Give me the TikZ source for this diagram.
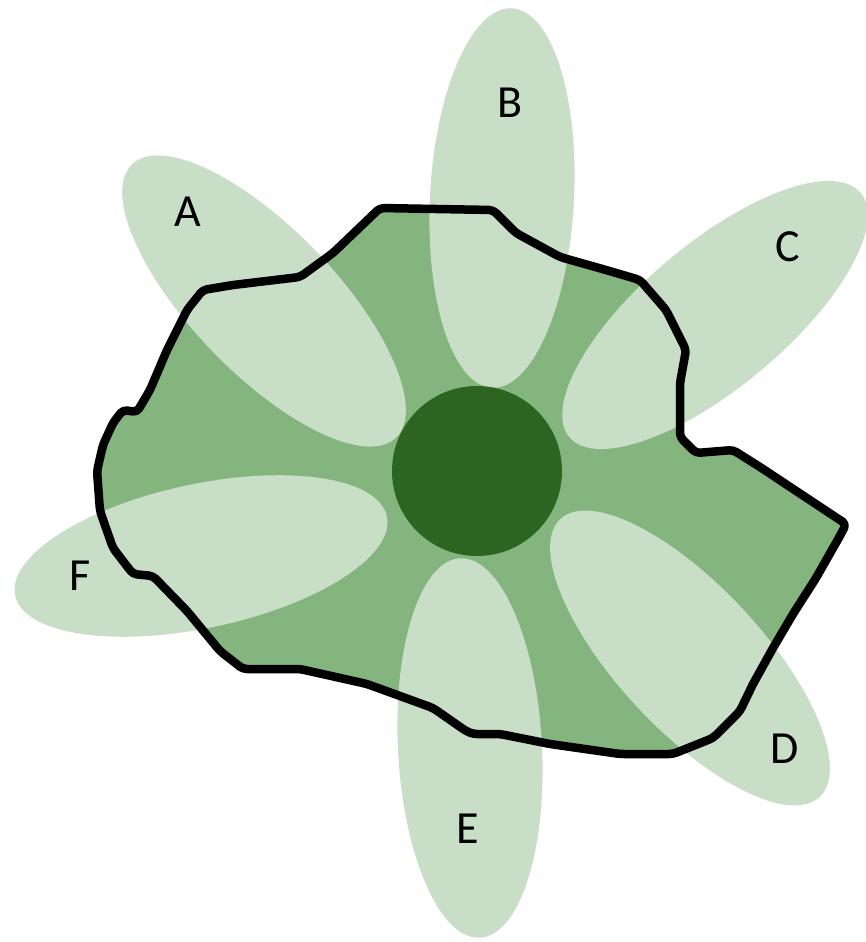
\documentclass[tikz,border=0pt]{standalone}
\usepackage{fontspec}
\usepackage{xcolor}
\usepackage{tikz}
\newfontfamily\petalfont{Carlito}

\definecolor{leafpale}{HTML}{C9DEC7}
\definecolor{leafmid}{HTML}{85B57F}
\definecolor{leafdark}{HTML}{2B6521}

% irregular boundary (image pixel coordinates, y downwards)
\newcommand{\blobline}{(380,-208) -- (493,-210) -- (516,-233) -- (560,-257) -- (606,-270)
  -- (640,-280) -- (666,-310) -- (686,-350) -- (680,-383) -- (680,-437) -- (696,-453)
  -- (733,-450) -- (760,-467) -- (846,-524) -- (841,-534) -- (816,-578) -- (793,-614)
  -- (773,-648) -- (753,-684) -- (740,-711) -- (713,-738) -- (673,-754) -- (620,-754)
  -- (550,-744) -- (500,-734) -- (473,-734) -- (466,-731) -- (433,-708) -- (367,-684)
  -- (300,-669) -- (243,-669) -- (220,-651) -- (187,-611) -- (153,-576) -- (133,-574)
  -- (113,-548) -- (100,-511) -- (97,-471) -- (103,-445) -- (113,-423) -- (123,-410)
  -- (137,-412) -- (150,-390) -- (167,-350) -- (187,-310) -- (203,-290) -- (233,-285)
  -- (300,-277) -- (333,-253) -- cycle}

\begin{document}
\begin{tikzpicture}[
  x=1pt, y=1pt,
  petal/.style={fill=leafpale},
  core/.style={fill=leafdark},
  rim/.style={draw=black, line width=8.5pt, line join=round, rounded corners=4pt},
  area/.style={fill=leafmid, rounded corners=4pt},
  lbl/.style={font=\petalfont\fontsize{46}{50}\selectfont, inner sep=0pt}
]
  \useasboundingbox (0,0) rectangle (866,-942);

  \fill[area] \blobline;

  % petals: centre / turn
  \foreach \cx/\cy/\ang in {264/301/-46, 502/198/87, 715/315/40, 690/658/-47, 470/748/93, 201/556/12}
    \fill[petal] (\cx,-\cy) ellipse [x radius=190, y radius=72, rotate=\ang];

  \fill[core] (477,-471) circle [radius=85];
  \draw[rim] \blobline;

  \node[lbl] (labA) at (188,-212) {A};
  \node[lbl] (labB) at (510,-103) {B};
  \node[lbl] (labC) at (788,-247) {C};
  \node[lbl] (labD) at (785,-749) {D};
  \node[lbl] (labE) at (468,-829) {E};
  \node[lbl] (labF) at (80,-576) {F};
\end{tikzpicture}
\end{document}
